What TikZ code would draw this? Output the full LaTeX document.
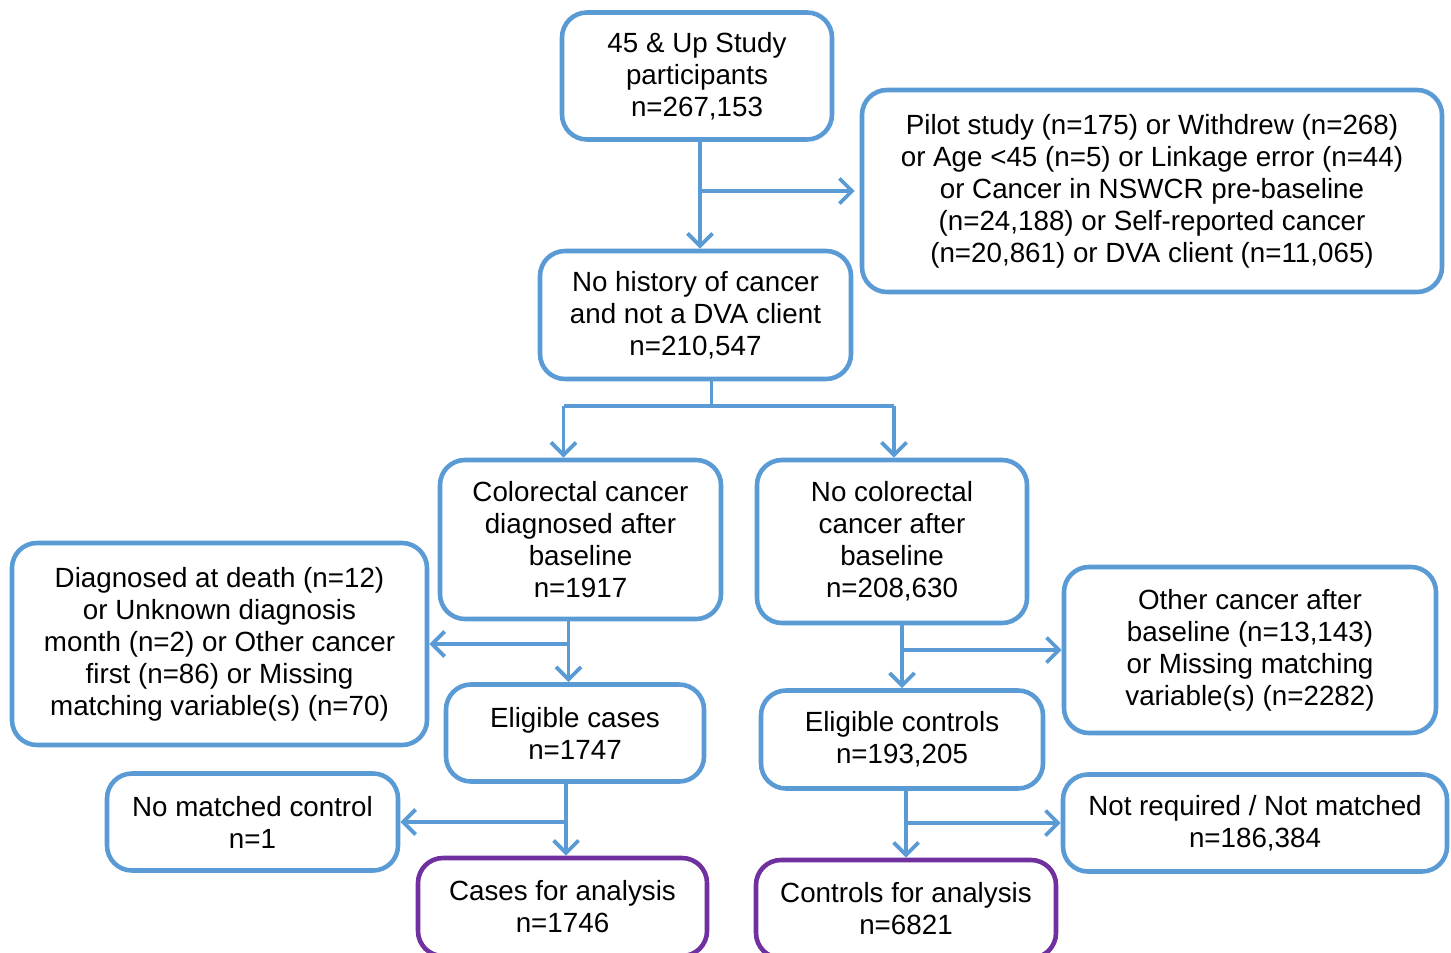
\documentclass[tikz,border=0pt]{standalone}
\usepackage{fontspec}
\setmainfont{Liberation Sans}
\usepackage{xcolor}
\usepackage{tikz}
\usetikzlibrary{arrows.meta}
\definecolor{flowblue}{RGB}{91,155,213}
\definecolor{flowpurple}{RGB}{112,48,160}
\tikzstyle{stage} = [rectangle, rounded corners=0.5cm, line width=2.6pt, draw=flowblue, fill=white, text centered, align=center, font=\fontsize{15.8}{18.2}\selectfont, inner sep=0pt]
\tikzstyle{final} = [stage, draw=flowpurple]
\tikzstyle{arrow} = [line width=2.2pt, draw=flowblue, -{Straight Barb[length=0.25cm, width=0.5cm]}]
\tikzstyle{line} = [line width=2.2pt, draw=flowblue]

\begin{document}
\begin{tikzpicture}
            \useasboundingbox (0,0) rectangle (29.02,-19.06);
            % Nodes
            \node (cohort) [stage, minimum width=5.4cm, minimum height=2.54cm] at (13.94,-1.52) {45 \& Up Study\\participants\\n=267,153};
            \node (excl-base) [stage, minimum width=11.6cm, minimum height=4.04cm] at (23.04,-3.82) {Pilot study (n=175) or Withdrew (n=268)\\or Age <45 (n=5) or Linkage error (n=44)\\or Cancer in NSWCR pre-baseline\\(n=24,188) or Self-reported cancer\\(n=20,861) or DVA client (n=11,065)};
            \node (eligible) [stage, minimum width=6.22cm, minimum height=2.56cm] at (13.91,-6.3) {No history of cancer\\and not a DVA client\\n=210,547};
            \node (crc) [stage, minimum width=5.62cm, minimum height=3.18cm] at (11.61,-10.79) {Colorectal cancer\\diagnosed after\\baseline\\n=1917};
            \node (nocrc) [stage, minimum width=5.4cm, minimum height=3.26cm] at (17.84,-10.83) {No colorectal\\cancer after\\baseline\\n=208,630};
            \node (excl-cases) [stage, minimum width=8.3cm, minimum height=4.04cm] at (4.39,-12.88) {Diagnosed at death (n=12)\\or Unknown diagnosis\\month (n=2) or Other cancer\\first (n=86) or Missing\\matching variable(s) (n=70)};
            \node (excl-controls) [stage, minimum width=7.44cm, minimum height=3.32cm] at (25,-13.0) {Other cancer after\\baseline (n=13,143)\\or Missing matching\\variable(s) (n=2282)};
            \node (elig-cases) [stage, minimum width=5.16cm, minimum height=1.94cm] at (11.5,-14.66) {Eligible cases\\n=1747};
            \node (elig-controls) [stage, minimum width=5.64cm, minimum height=1.96cm] at (18.04,-14.79) {Eligible controls\\n=193,205};
            \node (nomatch) [stage, minimum width=5.82cm, minimum height=1.94cm] at (5.05,-16.44) {No matched control\\n=1};
            \node (notreq) [stage, minimum width=7.68cm, minimum height=1.94cm] at (25.1,-16.46) {Not required / Not matched\\n=186,384};
            \node (cases) [final, minimum width=5.78cm, minimum height=1.96cm] at (11.25,-18.14) {Cases for analysis\\n=1746};
            \node (controls) [final, minimum width=6.0cm, minimum height=1.96cm] at (18.12,-18.18) {Controls for analysis\\n=6821};

            % Arrows
            \draw [arrow] ([xshift=0.06cm]cohort.south) -- ([xshift=0.06cm]cohort.south |- eligible.north);
            \draw [arrow, shorten >=0.1cm] ([xshift=0.06cm]cohort.south |- excl-base.west) -- (excl-base.west);
            \draw [line] ([xshift=0.32cm]eligible.south) -- ++(0,-0.5) coordinate (split);
            \draw [line] ([xshift=-0.34cm]crc.north |- split) -- ([xshift=0.04cm]nocrc.north |- split);
            \draw [arrow] ([xshift=-0.34cm]crc.north |- split) -- ([xshift=-0.34cm]crc.north);
            \draw [arrow] ([xshift=0.04cm]nocrc.north |- split) -- ([xshift=0.04cm]nocrc.north);
            \draw [arrow] ([xshift=-0.24cm]crc.south) -- ([xshift=-0.24cm]crc.south |- elig-cases.north);
            \draw [arrow] ([xshift=-0.24cm]crc.south |- excl-cases.east) -- (excl-cases.east);
            \draw [arrow] (elig-controls.north |- nocrc.south) -- (elig-controls.north);
            \draw [arrow] (elig-controls.north |- excl-controls.west) -- (excl-controls.west);
            \draw [arrow] ([xshift=-0.18cm]elig-cases.south) -- ([xshift=-0.18cm]elig-cases.south |- cases.north);
            \draw [arrow] ([xshift=-0.18cm]elig-cases.south |- nomatch.east) -- (nomatch.east);
            \draw [arrow] (controls.north |- elig-controls.south) -- (controls.north);
            \draw [arrow] (controls.north |- notreq.west) -- (notreq.west);
        \end{tikzpicture}
\end{document}
